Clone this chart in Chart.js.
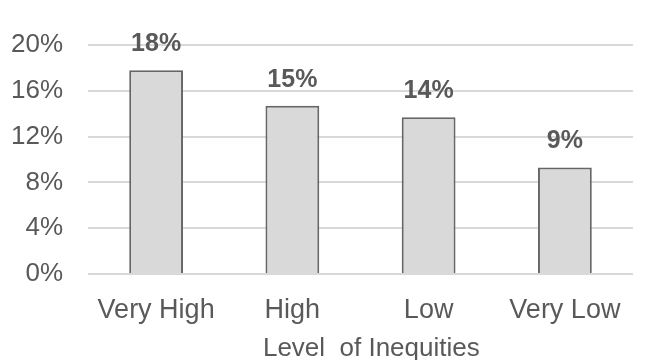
<!DOCTYPE html>
<html>
<head>
<meta charset="utf-8">
<script src="https://cdn.jsdelivr.net/npm/chart.js@4"></script>
<style>
  html, body { margin: 0; padding: 0; background: #ffffff; }
  #wrap { width: 652px; height: 360px; }
</style>
</head>
<body>
<div id="wrap"><canvas id="c" width="652" height="360"></canvas></div>
<script>
const categories = ["Very High", "High", "Low", "Very Low"];
const values = [17.8, 14.7, 13.7, 9.3];
const yTicks = [0, 4, 8, 12, 16, 20];
const axisTitle = "   Level  of Inequities";

const FONT = "'Liberation Sans', Arial, sans-serif";
const TEXT = "#595959";

const barLabels = {
  id: "barLabels",
  afterDatasetsDraw(chart) {
    const ctx = chart.ctx;
    const meta = chart.getDatasetMeta(0);
    ctx.save();
    ctx.font = "bold 25px " + FONT;
    ctx.fillStyle = TEXT;
    ctx.textAlign = "center";
    ctx.textBaseline = "middle";
    meta.data.forEach((bar, i) => {
      ctx.fillText(Math.round(values[i]) + "%", bar.x, bar.y - 26);
    });
    ctx.restore();
  }
};

new Chart(document.getElementById("c"), {
  type: "bar",
  data: {
    labels: categories,
    datasets: [{
      data: values,
      backgroundColor: "#d9d9d9",
      borderColor: "#666666",
      borderWidth: 2,
      categoryPercentage: 1,
      barPercentage: 0.395
    }]
  },
  options: {
    responsive: false,
    animation: false,
    devicePixelRatio: 1,
    layout: { padding: { left: 0, right: 19, top: 45, bottom: 0 } },
    plugins: { legend: { display: false }, tooltip: { enabled: false } },
    scales: {
      x: {
        grid: { display: false },
        border: { display: false },
        ticks: { color: TEXT, font: { family: FONT, size: 27 }, padding: 12 },
        title: {
          display: true, text: axisTitle, color: TEXT,
          font: { family: FONT, size: 26 }, padding: { top: 9, bottom: -4 }
        },
        afterFit(s) { s.height = 86; }
      },
      y: {
        min: 0, max: 20,
        afterBuildTicks(s) { s.ticks = yTicks.map(v => ({ value: v })); },
        grid: { color: "#d9d9d9", lineWidth: 2, drawTicks: false },
        border: { display: false },
        ticks: {
          color: TEXT, font: { family: FONT, size: 26 }, padding: 25,
          callback: v => v + "%"
        },
        afterFit(s) { s.width = 88; }
      }
    }
  },
  plugins: [barLabels]
});
</script>
</body>
</html>
